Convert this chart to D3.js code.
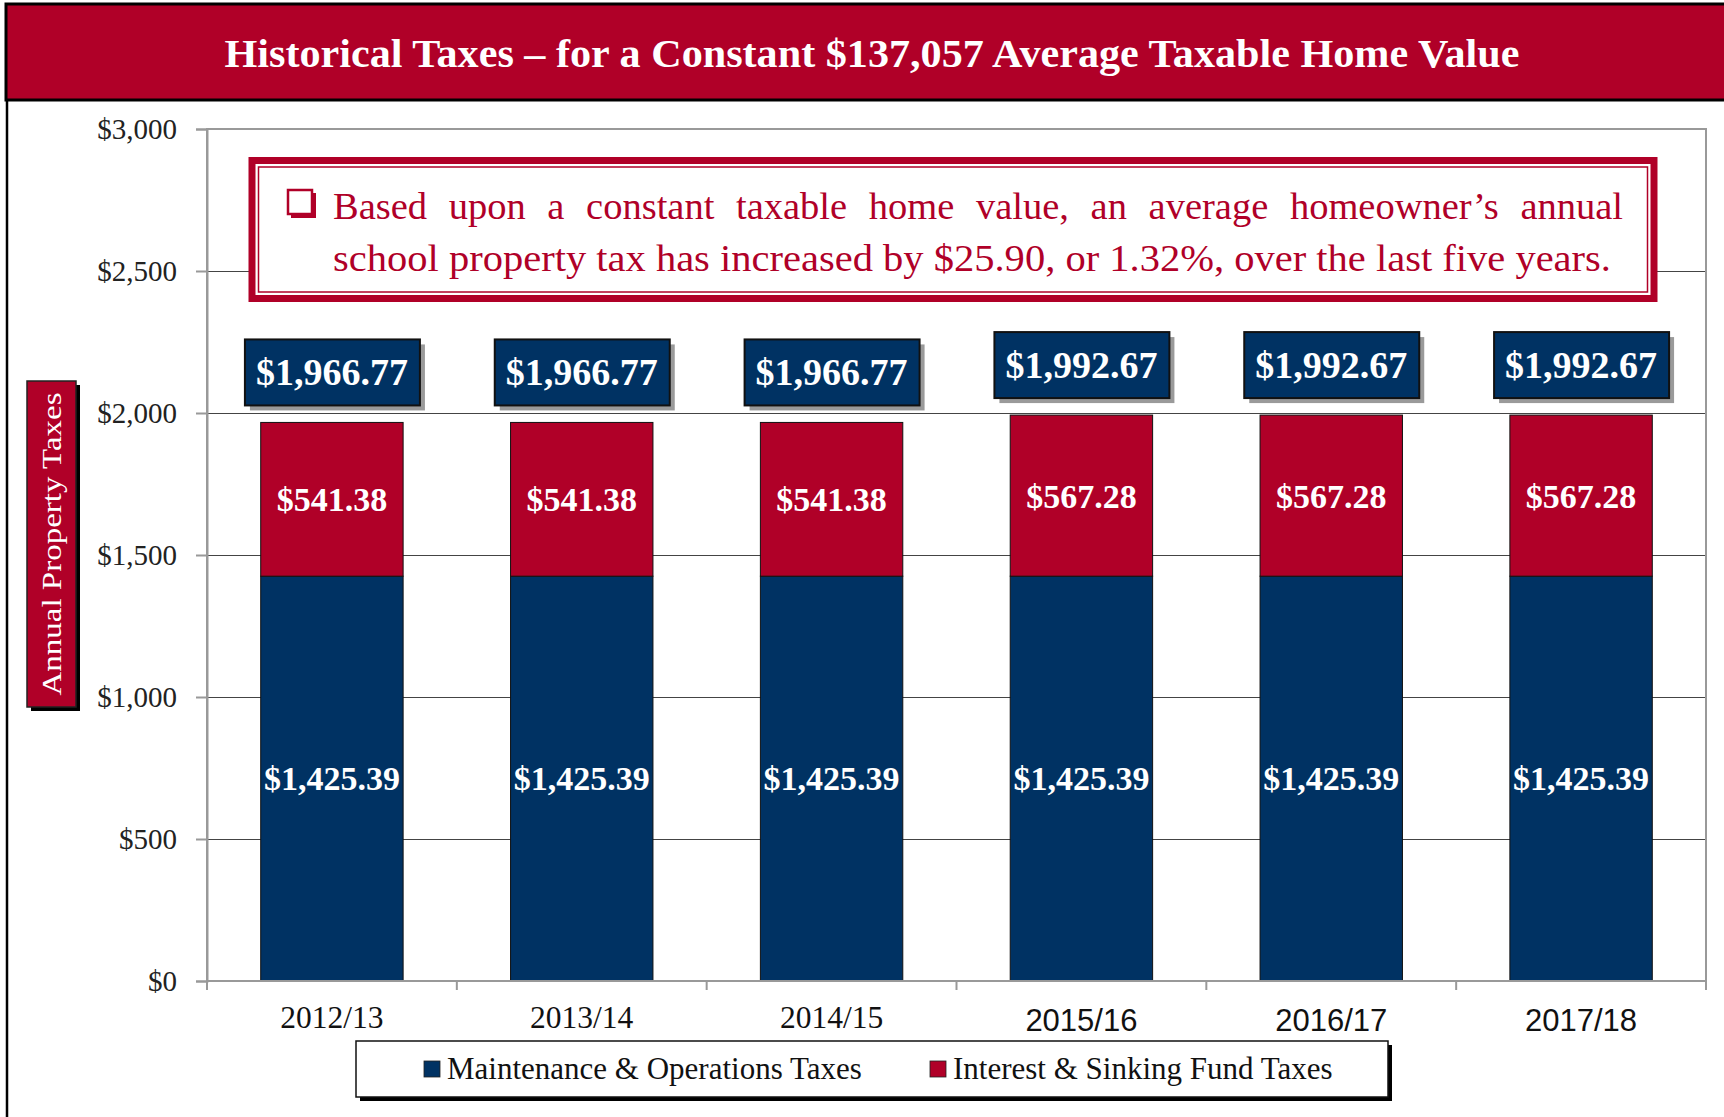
<!DOCTYPE html>
<html>
<head>
<meta charset="utf-8">
<script src="https://cdn.jsdelivr.net/npm/d3@7"></script>
<style>
  body { margin: 0; background: #fff; }
  svg { display: block; }
</style>
</head>
<body>
<svg id="chart" width="1724" height="1117"></svg>
<script>
// data
const years = ['2012/13', '2013/14', '2014/15', '2015/16', '2016/17', '2017/18'];
const moTaxes = [1425.39, 1425.39, 1425.39, 1425.39, 1425.39, 1425.39];
const isTaxes = [541.38, 541.38, 541.38, 567.28, 567.28, 567.28];
const yTicks = [0, 500, 1000, 1500, 2000, 2500, 3000];
const seriesNames = ['Maintenance & Operations Taxes', 'Interest & Sinking Fund Taxes'];
const titleText = 'Historical Taxes \u2013 for a Constant $137,057 Average Taxable Home Value';
const yLabel = 'Annual Property Taxes';
const noteLines = [
  'Based upon a constant taxable home value, an average homeowner\u2019s annual',
  'school property tax has increased by $25.90, or 1.32%, over the last five years.'
];

const RED = '#b00028';
const NAVY = '#003263';
const serif = '"Liberation Serif", "Times New Roman", serif';
const sans = '"Liberation Sans", Arial, sans-serif';

const svg = d3.select('#chart');
const plot = { left: 207, right: 1706, top: 129, bottom: 981 };

const x = d3.scaleBand().domain(years).range([plot.left, plot.right]).padding(0);
const y = d3.scaleLinear().domain([0, 3000]).range([plot.bottom, plot.top]);
const barW = x.bandwidth() * 0.57;
const money = d3.format('$,.2f');

const rows = years.map((yr, i) => ({ year: yr, mo: moTaxes[i], is: isTaxes[i] }));
const stack = d3.stack().keys(['mo', 'is'])(rows);
const colors = { mo: NAVY, is: RED };

// frame + banner
svg.append('line')
  .attr('x1', 7).attr('x2', 7).attr('y1', 95).attr('y2', 1117)
  .attr('stroke', '#000').attr('stroke-width', 2.5);
svg.append('rect')
  .attr('x', 6).attr('y', 4).attr('width', 1730).attr('height', 96)
  .attr('fill', RED).attr('stroke', '#000').attr('stroke-width', 3);
svg.append('text')
  .attr('x', 872).attr('y', 67)
  .attr('text-anchor', 'middle')
  .attr('font-family', serif).attr('font-weight', 'bold').attr('font-size', 40)
  .attr('fill', '#fff')
  .attr('textLength', 1295).attr('lengthAdjust', 'spacingAndGlyphs')
  .text(titleText);

// gridlines
svg.append('g')
  .attr('transform', `translate(${plot.left},0)`)
  .call(d3.axisLeft(y).tickValues(yTicks.filter(v => v > 0 && v < 3000))
    .tickSize(-(plot.right - plot.left)).tickFormat(''))
  .call(g => g.select('.domain').remove())
  .call(g => g.selectAll('line').attr('stroke', '#444').attr('stroke-width', 1.2));

// bars
svg.append('g').selectAll('g')
  .data(stack)
  .join('g')
  .attr('fill', d => colors[d.key])
  .selectAll('rect')
  .data(d => d)
  .join('rect')
  .attr('x', d => x(d.data.year) + (x.bandwidth() - barW) / 2)
  .attr('y', d => y(d[1]))
  .attr('width', barW)
  .attr('height', d => y(d[0]) - y(d[1]))
  .attr('stroke', '#111').attr('stroke-width', 1);

// segment labels
svg.append('g').selectAll('g')
  .data(stack)
  .join('g')
  .selectAll('text')
  .data(d => d.map(v => ({ v, val: v[1] - v[0] })))
  .join('text')
  .attr('x', d => x(d.v.data.year) + x.bandwidth() / 2)
  .attr('y', d => y((d.v[0] + d.v[1]) / 2))
  .attr('dy', '0.35em')
  .attr('text-anchor', 'middle')
  .attr('font-family', serif).attr('font-weight', 'bold').attr('font-size', 34)
  .attr('fill', '#fff')
  .text(d => money(d.val));

// plot border and axes
svg.append('rect')
  .attr('x', plot.left).attr('y', plot.top)
  .attr('width', plot.right - plot.left).attr('height', plot.bottom - plot.top)
  .attr('fill', 'none').attr('stroke', '#999').attr('stroke-width', 2);

svg.append('g')
  .attr('transform', `translate(${plot.left},0)`)
  .call(d3.axisLeft(y).tickValues(yTicks).tickSize(11).tickPadding(19).tickFormat(d3.format('$,')))
  .call(g => g.select('.domain').attr('stroke', '#999').attr('stroke-width', 2))
  .call(g => g.selectAll('line').attr('stroke', '#999').attr('stroke-width', 2))
  .call(g => g.selectAll('text')
    .attr('font-family', serif).attr('font-size', 29).attr('fill', '#222'));

const bounds = d3.range(years.length + 1).map(i => plot.left + i * x.step());
svg.append('g').selectAll('line')
  .data(bounds)
  .join('line')
  .attr('x1', d => d).attr('x2', d => d)
  .attr('y1', plot.bottom).attr('y2', plot.bottom + 9)
  .attr('stroke', '#999').attr('stroke-width', 2);

svg.append('g').selectAll('text')
  .data(years)
  .join('text')
  .attr('x', d => x(d) + x.bandwidth() / 2)
  .attr('y', (d, i) => i < 3 ? 1028 : 1031)
  .attr('text-anchor', 'middle')
  .attr('font-family', (d, i) => i < 3 ? serif : sans)
  .attr('font-size', (d, i) => i < 3 ? 31.5 : 31)
  .attr('fill', '#111')
  .text(d => d);

// total boxes
const totals = rows.map(r => ({ year: r.year, total: r.mo + r.is }));
const tb = svg.append('g').selectAll('g')
  .data(totals)
  .join('g')
  .attr('transform', d => `translate(${x(d.year) + x.bandwidth() / 2},${y(d.total) - 17 - 66})`);
tb.append('rect')
  .attr('x', -87 + 5).attr('y', 5).attr('width', 175).attr('height', 66)
  .attr('fill', '#9a9a9a');
tb.append('rect')
  .attr('x', -87).attr('y', 0).attr('width', 175).attr('height', 66)
  .attr('fill', NAVY).attr('stroke', '#111').attr('stroke-width', 2);
tb.append('text')
  .attr('x', 0).attr('y', 46)
  .attr('text-anchor', 'middle')
  .attr('font-family', serif).attr('font-weight', 'bold').attr('font-size', 38)
  .attr('fill', '#fff')
  .text(d => money(d.total));

// callout
const note = { x: 248.5, y: 157, w: 1409, h: 145 };
svg.append('rect')
  .attr('x', note.x).attr('y', note.y).attr('width', note.w).attr('height', note.h)
  .attr('fill', RED);
svg.append('rect')
  .attr('x', note.x + 7).attr('y', note.y + 7).attr('width', note.w - 14).attr('height', note.h - 14)
  .attr('fill', '#fff');
svg.append('rect')
  .attr('x', note.x + 10).attr('y', note.y + 10).attr('width', note.w - 20).attr('height', note.h - 20)
  .attr('fill', 'none').attr('stroke', RED).attr('stroke-width', 1.5);

// checkbox bullet
svg.append('rect')
  .attr('x', 291).attr('y', 193).attr('width', 25).attr('height', 25)
  .attr('fill', RED);
svg.append('rect')
  .attr('x', 288).attr('y', 190).attr('width', 24).attr('height', 24)
  .attr('fill', '#fff').attr('stroke', RED).attr('stroke-width', 2.5);

// justified first line, natural second line
const line1 = svg.append('g');
const words = noteLines[0].split(' ');
const wText = line1.selectAll('text')
  .data(words)
  .join('text')
  .attr('y', 219)
  .attr('font-family', serif).attr('font-size', 38.5)
  .attr('fill', RED)
  .text(d => d);
const widths = wText.nodes().map(n => n.getComputedTextLength());
const lineStart = 333, lineEnd = 1623;
const gap = (lineEnd - lineStart - d3.sum(widths)) / (words.length - 1);
let cx = lineStart;
wText.attr('x', (d, i) => { const p = cx; cx += widths[i] + gap; return p; });

svg.append('text')
  .attr('x', lineStart).attr('y', 270.5)
  .attr('font-family', serif).attr('font-size', 38.5)
  .attr('fill', RED)
  .attr('textLength', 1278).attr('lengthAdjust', 'spacingAndGlyphs')
  .text(noteLines[1]);

// y axis title box
svg.append('rect')
  .attr('x', 31).attr('y', 385).attr('width', 49).attr('height', 326)
  .attr('fill', '#000');
svg.append('rect')
  .attr('x', 27).attr('y', 381).attr('width', 49).attr('height', 326)
  .attr('fill', RED).attr('stroke', '#222').attr('stroke-width', 1.5);
svg.append('text')
  .attr('transform', 'translate(51.5,544) rotate(-90)')
  .attr('text-anchor', 'middle').attr('dy', '0.35em')
  .attr('font-family', serif).attr('font-size', 28)
  .attr('fill', '#fff')
  .attr('textLength', 303).attr('lengthAdjust', 'spacingAndGlyphs')
  .text(yLabel);

// legend
svg.append('rect')
  .attr('x', 360).attr('y', 1045).attr('width', 1032).attr('height', 56)
  .attr('fill', '#000');
svg.append('rect')
  .attr('x', 356).attr('y', 1041).attr('width', 1032).attr('height', 56)
  .attr('fill', '#fff').attr('stroke', '#111').attr('stroke-width', 1.5);
const legendX = [424, 930];
const lg = svg.append('g').selectAll('g')
  .data(seriesNames)
  .join('g')
  .attr('transform', (d, i) => `translate(${legendX[i]},0)`);
lg.append('rect')
  .attr('x', 0).attr('y', 1061).attr('width', 16).attr('height', 16)
  .attr('fill', (d, i) => i === 0 ? NAVY : RED)
  .attr('stroke', '#222').attr('stroke-width', 0.8);
lg.append('text')
  .attr('x', 23).attr('y', 1079)
  .attr('font-family', serif).attr('font-size', 31)
  .attr('fill', '#111')
  .text(d => d);
</script>
</body>
</html>
